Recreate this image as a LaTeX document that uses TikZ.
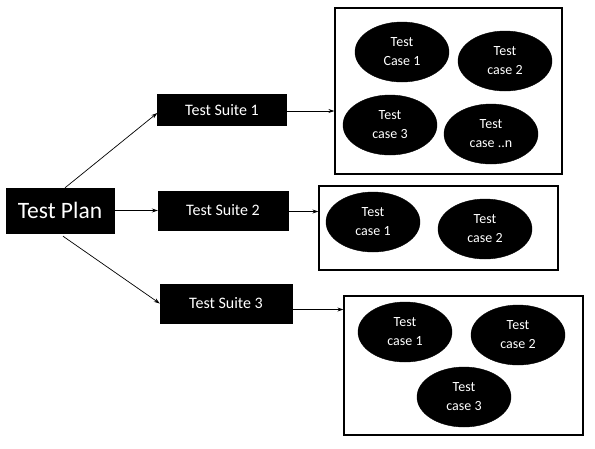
\documentclass[tikz,border=0pt]{standalone}
\usepackage{fontspec}
\setmainfont{Carlito}
\usetikzlibrary{shapes.geometric,arrows.meta,positioning}
\begin{document}
\begin{tikzpicture}[x=1pt,y=-1pt,
  blk/.style={draw=black,fill=black,text=white,inner sep=0pt},
  suite/.style={blk,minimum width=129pt,minimum height=31pt,font=\fontsize{16}{18}\selectfont},
  tcase/.style={ellipse,draw=black,fill=black,text=white,inner sep=0pt,minimum width=94pt,minimum height=60pt,align=center,font=\fontsize{14}{19}\selectfont},
  grp/.style={draw=black,line width=1.3pt},
  conn/.style={draw=black,line width=0.7pt,-{Stealth[length=6pt,width=4pt]}}]
\useasboundingbox (0,0) rectangle (595,448);
\fill[white] (0,0) rectangle (595,448);
% test plan
\node[blk,minimum width=108pt,minimum height=45pt,font=\fontsize{23.5}{26}\selectfont] (plan) at (60,210.5) {Test Plan};
% suites
\node[suite] (s1) at (222,110) {Test Suite 1};
\node[suite,minimum width=130pt,minimum height=39pt] (s2) at (223,210.5) {Test Suite 2};
\node[suite,minimum width=132pt,minimum height=39pt] (s3) at (226,303.5) {Test Suite 3};
% group boxes
\node[grp,minimum width=227pt,minimum height=166pt,inner sep=0pt] (b1) at (448.5,91) {};
\node[grp,minimum width=239pt,minimum height=84pt,inner sep=0pt] (b2) at (438.5,228) {};
\node[grp,minimum width=239pt,minimum height=139pt,inner sep=0pt] (b3) at (463.5,365.5) {};
% test cases group 1
\node[tcase] (c11) at (402,52) {Test\\Case 1};
\node[tcase] (c12) at (505,61) {Test\\case 2};
\node[tcase] (c13) at (390,125) {Test\\case 3};
\node[tcase] (c1n) at (491,134) {Test\\case ..n};
% group 2
\node[tcase] (c21) at (373,222) {Test\\case 1};
\node[tcase] (c22) at (485,229) {Test\\case 2};
% group 3
\node[tcase] (c31) at (405,332) {Test\\case 1};
\node[tcase] (c32) at (518,335) {Test\\case 2};
\node[tcase] (c33) at (464,397) {Test\\case 3};
% connectors
\draw[conn] ([xshift=5pt]plan.north) -- ([yshift=-3pt]s1.west);
\draw[conn] (plan.east) -- (s2.west);
\draw[conn] ([xshift=3pt,yshift=-3pt]plan.south) -- (s3.west);
\coordinate (a1) at ([yshift=-1pt]s1.east);
\coordinate (a2) at ([yshift=-1pt]s2.east);
\coordinate (a3) at ([yshift=-6pt]s3.east);
\draw[conn] (a1) -- (a1 -| b1.west);
\draw[conn] (a2) -- (a2 -| b2.west);
\draw[conn] (a3) -- (a3 -| b3.west);
\end{tikzpicture}
\end{document}
